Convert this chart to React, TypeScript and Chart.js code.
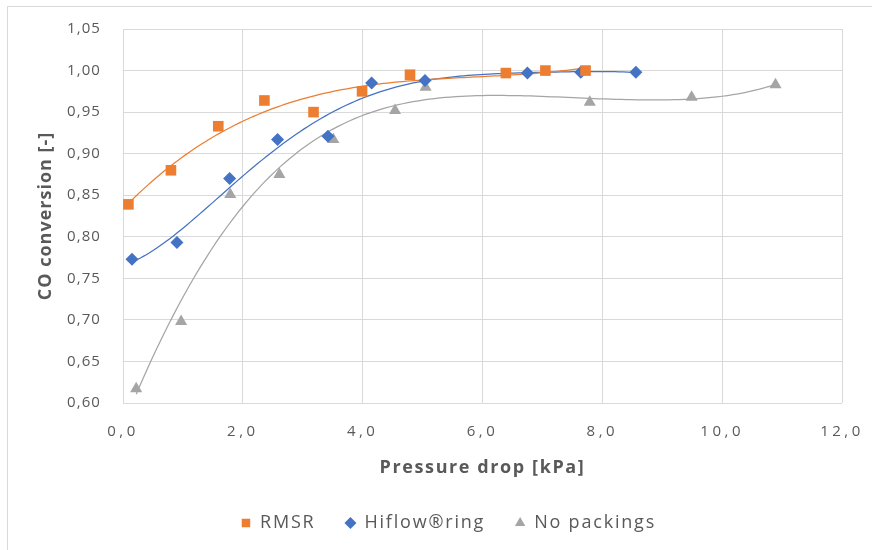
import React, { useEffect, useRef } from "react";
import { Chart, registerables } from "chart.js";

Chart.register(...registerables);

// Data
const rmsrX = [0.09, 0.8, 1.59, 2.36, 3.18, 3.99, 4.79, 6.39, 7.05, 7.72];
const rmsrY = [0.839, 0.88, 0.933, 0.964, 0.95, 0.975, 0.995, 0.997, 1.0, 1.0];
const hiflowX = [0.15, 0.9, 1.78, 2.58, 3.42, 4.15, 5.04, 6.75, 7.64, 8.56];
const hiflowY = [0.773, 0.793, 0.87, 0.917, 0.921, 0.985, 0.988, 0.997, 0.998, 0.998];
const noPackX = [0.22, 0.97, 1.79, 2.61, 3.51, 4.54, 5.05, 7.79, 9.49, 10.89];
const noPackY = [0.617, 0.698, 0.851, 0.875, 0.917, 0.952, 0.98, 0.962, 0.968, 0.983];

const seriesNames = ["RMSR", "Hiflow®ring", "No packings"];
const seriesColors = ["#ED7D31", "#4472C4", "#A5A5A5"];
const trendOrders = [3, 5, 6];

const xMin = 0;
const xMax = 12;
const xStep = 2;
const yMin = 0.6;
const yMax = 1.05;
const yStep = 0.05;

const xTitle = "Pressure drop [kPa]";
const yTitle = "CO conversion [-]";

const FONT = "'Open Sans', sans-serif";
const TEXT = "#595959";

function polyFit(xs: number[], ys: number[], order: number): number[] {
  const n = order + 1;
  const A: number[][] = Array.from({ length: n }, () => new Array(n + 1).fill(0));
  for (let i = 0; i < xs.length; i++) {
    for (let r = 0; r < n; r++) {
      for (let c = 0; c < n; c++) A[r][c] += Math.pow(xs[i], r + c);
      A[r][n] += ys[i] * Math.pow(xs[i], r);
    }
  }
  for (let col = 0; col < n; col++) {
    let piv = col;
    for (let r = col + 1; r < n; r++) if (Math.abs(A[r][col]) > Math.abs(A[piv][col])) piv = r;
    const tmp = A[col];
    A[col] = A[piv];
    A[piv] = tmp;
    for (let r = 0; r < n; r++) {
      if (r === col) continue;
      const f = A[r][col] / A[col][col];
      for (let c = col; c <= n; c++) A[r][c] -= f * A[col][c];
    }
  }
  return A.map((row, i) => row[n] / row[i]);
}

function trend(xs: number[], ys: number[], order: number) {
  const coef = polyFit(xs, ys, order);
  const lo = Math.min(...xs);
  const hi = Math.max(...xs);
  const pts: { x: number; y: number }[] = [];
  const steps = 120;
  for (let i = 0; i <= steps; i++) {
    const x = lo + ((hi - lo) * i) / steps;
    let y = 0;
    for (let k = coef.length - 1; k >= 0; k--) y = y * x + coef[k];
    pts.push({ x, y });
  }
  return pts;
}

const comma = (v: number, d: number) => v.toFixed(d).replace(".", ",");

function withSpacing(obj: any, name: string, sp: string) {
  if (!obj) return;
  obj.__sp = obj.__sp || {};
  if (obj.__sp[name]) return;
  obj.__sp[name] = true;
  const orig = obj[name];
  obj[name] = function (...args: any[]) {
    const ctx = this.ctx || this.chart.ctx;
    const prev = (ctx as any).letterSpacing;
    (ctx as any).letterSpacing = sp;
    try {
      return orig.apply(this, args);
    } finally {
      (ctx as any).letterSpacing = prev || "0px";
    }
  };
}

const spacingPlugin = {
  id: "spacingPlugin",
  beforeLayout(chart: any) {
    withSpacing(chart.scales.x, "drawLabels", "3.5px");
    withSpacing(chart.scales.y, "drawLabels", "1.1px");
    withSpacing(chart.scales.x, "drawTitle", "1.6px");
    withSpacing(chart.scales.y, "drawTitle", "1px");
    withSpacing(chart.legend, "fit", "1.8px");
    withSpacing(chart.legend, "draw", "1.8px");
  },
};

export default function App() {
  const ref = useRef<HTMLCanvasElement>(null);

  useEffect(() => {
    if (!ref.current) return;
    const xsAll = [rmsrX, hiflowX, noPackX];
    const ysAll = [rmsrY, hiflowY, noPackY];
    const styles = ["rect", "rectRot", "triangle"];
    const radii = [7.5, 6.5, 7];

    const scatterSets = xsAll.map((xs, i) => ({
      type: "scatter" as const,
      label: seriesNames[i],
      data: xs.map((x, j) => ({ x, y: ysAll[i][j] })),
      backgroundColor: seriesColors[i],
      borderColor: seriesColors[i],
      borderWidth: 0,
      pointStyle: styles[i],
      pointRadius: radii[i],
      pointBorderWidth: 0,
      showLine: false,
    }));
    const trendSets = xsAll.map((xs, i) => ({
      type: "scatter" as const,
      label: "trend" + i,
      data: trend(xs, ysAll[i], trendOrders[i]),
      borderColor: seriesColors[i],
      backgroundColor: seriesColors[i],
      borderWidth: 1.25,
      pointRadius: 0,
      showLine: true,
      tension: 0,
    }));

    const chart = new Chart(ref.current, {
      type: "scatter",
      data: { datasets: [...scatterSets, ...trendSets] as any },
      plugins: [spacingPlugin],
      options: {
        animation: false,
        responsive: false,
        maintainAspectRatio: false,
        layout: { autoPadding: false, padding: { top: 22, right: 30, left: 47, bottom: 8 } },
        plugins: {
          tooltip: { enabled: false },
          legend: {
            position: "bottom",
            labels: {
              filter: (item: any) => item.datasetIndex < 3,
              usePointStyle: true,
              boxWidth: 10,
              boxHeight: 8.5,
              padding: 30,
              color: TEXT,
              font: { family: FONT, size: 18 },
            },
          },
        },
        scales: {
          x: {
            type: "linear",
            min: xMin,
            max: xMax,
            border: { display: false },
            grid: { color: "#D9D9D9", lineWidth: 1, drawTicks: false },
            afterFit: (s: any) => {
              s.height = 81;
              s.paddingLeft = 0;
              s.paddingRight = 0;
            },
            ticks: {
              stepSize: xStep,
              padding: 20,
              color: TEXT,
              font: { family: FONT, size: 15 },
              callback: (v: any) => comma(Number(v), 1),
            },
            title: {
              display: true,
              text: xTitle,
              color: TEXT,
              font: { family: FONT, size: 18, weight: "bold" },
              padding: { top: 0, bottom: 5 },
            },
          },
          y: {
            type: "linear",
            min: yMin,
            max: yMax,
            border: { display: false },
            grid: { color: "#D9D9D9", lineWidth: 1, drawTicks: false },
            afterFit: (s: any) => {
              s.width = 68;
              s.paddingTop = 0;
              s.paddingBottom = 0;
            },
            ticks: {
              stepSize: yStep,
              padding: 22,
              color: TEXT,
              font: { family: FONT, size: 15 },
              callback: (v: any) => comma(Number(v), 2),
            },
            title: {
              display: true,
              text: yTitle,
              color: TEXT,
              font: { family: FONT, size: 18, weight: "bold" },
              padding: { top: -20, bottom: 0 },
            },
          },
        },
      },
    } as any);
    return () => chart.destroy();
  }, []);

  return (
    <div
      style={{
        position: "absolute",
        top: 6,
        left: 7,
        width: 865,
        height: 544,
        boxSizing: "border-box",
        borderTop: "1px solid #D9D9D9",
        borderLeft: "1px solid #D9D9D9",
        background: "#fff",
        overflow: "hidden",
      }}
    >
      <canvas ref={ref} width={864} height={543} style={{ display: "block" }} />
    </div>
  );
}
